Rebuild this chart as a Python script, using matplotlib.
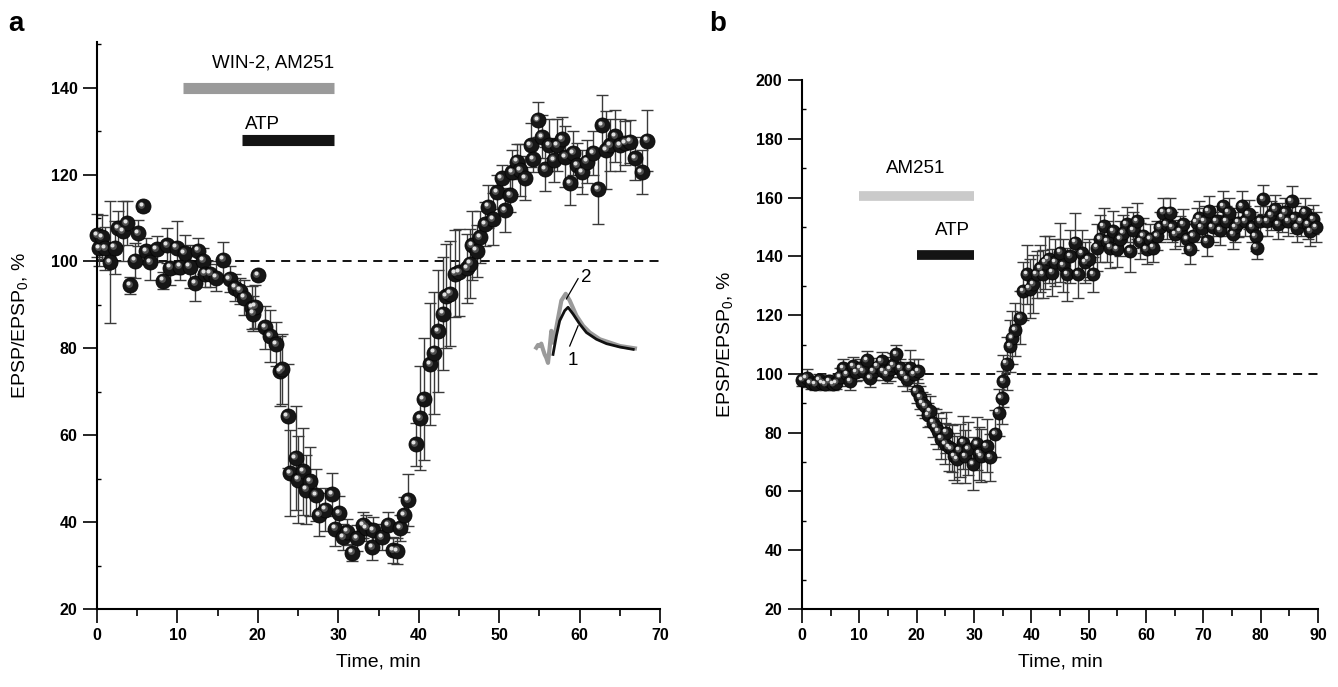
import matplotlib
matplotlib.use("Agg")
import matplotlib.pyplot as plt
import matplotlib.transforms as mtransforms
from matplotlib.ticker import MultipleLocator

plt.rcParams['font.family'] = ['Liberation Sans', 'DejaVu Sans']
plt.rcParams['mathtext.fontset'] = 'custom'
plt.rcParams['mathtext.rm'] = 'Liberation Sans'
plt.rcParams['mathtext.it'] = 'Liberation Sans'

# panel a: WIN-2 + AM251, then ATP
time_a = [0.0, 0.3, 0.6, 1.0, 1.6, 2.2, 2.6, 3.2, 3.7, 4.1, 4.7, 5.1, 5.7, 6.1, 6.6,
          7.4, 8.2, 8.7, 9.1, 9.9, 10.3, 10.9, 11.5, 12.2, 12.6, 13.2, 13.4, 14.1, 14.8,
          15.7, 16.5, 17.2, 17.8, 18.3, 19.3, 19.4, 19.7, 20.0, 20.9, 21.5, 22.3, 22.8,
          23.0, 23.7, 24.0, 24.7, 25.0, 25.6, 26.0, 26.5, 27.2, 27.6, 28.4, 29.2, 29.6,
          30.1, 30.6, 31.1, 31.7, 32.3, 33.1, 33.5, 34.2, 34.3, 35.4, 36.2, 36.8, 37.3,
          37.7, 38.2, 38.7, 39.6, 40.2, 40.6, 41.4, 41.9, 42.4, 43.0, 43.4, 43.9, 44.5,
          45.0, 46.0, 46.4, 46.6, 47.2, 47.6, 48.3, 48.6, 49.2, 49.7, 50.3, 50.7, 51.4,
          51.6, 52.2, 52.6, 53.2, 53.9, 54.2, 54.8, 55.3, 55.7, 56.2, 56.8, 57.2, 57.8,
          58.2, 58.8, 59.2, 59.7, 60.3, 60.9, 61.7, 62.3, 62.8, 63.3, 63.8, 64.4, 65.0,
          65.7, 66.3, 66.9, 67.7, 68.4]
epsp_a = [106, 103, 105.6, 103, 99.8, 103.2, 107.6, 107, 108.8, 94.5, 100.2, 106.5, 112.7,
          102.3, 99.8, 102.8, 95.6, 103.7, 98.6, 103.2, 98.8, 102, 98.8, 95, 102.5, 100.2,
          97.2, 97.2, 96.3, 100.4, 96, 94, 93.3, 91.7, 89.4, 88, 89.6, 96.8, 84.8, 82.9,
          81, 74.8, 75.2, 64.4, 51.3, 54.8, 49.8, 51.7, 47.5, 49.4, 46.3, 41.7, 42.9, 46.4,
          38.5, 42, 36.6, 37.8, 33, 36.3, 39.4, 38.7, 34.3, 38.2, 36.6, 39.4, 33.6, 33.4,
          38.7, 41.7, 45, 57.9, 63.9, 68.3, 76.4, 79, 84, 88, 92, 92.6, 97.2, 97.5, 98.4,
          99.5, 103.7, 102.5, 105.6, 108.6, 112.6, 109.7, 116, 119.1, 111.8, 115.3, 120.6,
          123, 121, 119.2, 126.8, 123.6, 132.6, 128.7, 121.3, 126.8, 123.4, 126.8, 128.2,
          124.1, 118, 125, 122.2, 120.6, 123, 125, 116.6, 131.4, 125.7, 126.8, 128.9,
          126.8, 127.3, 127.6, 123.7, 120.6, 127.8]
sem_a = [5, 4, 5, 5, 14, 6, 4, 7, 5, 2, 4, 3, 1, 3, 4, 3, 2, 4, 4, 6, 3, 4, 5, 4, 3, 3,
         3, 3, 3, 4, 3, 3, 3, 4, 5, 4, 5, 1, 5, 6, 5, 8, 8, 12, 10, 12, 10, 10, 8, 8, 6,
         5, 5, 5, 4, 4, 3, 3, 2, 3, 3, 3, 3, 3, 3, 3, 3, 3, 3, 4, 6, 5, 12, 14, 14, 14,
         14, 13, 12, 12, 10, 10, 8, 8, 8, 6, 6, 5, 5, 6, 4, 3, 5, 4, 5, 4, 6, 5, 5, 3, 4,
         5, 5, 6, 5, 6, 5, 7, 5, 5, 5, 5, 5, 5, 8, 7, 9, 6, 6, 6, 5, 5, 5, 5, 7]

# panel b: AM251, then ATP
time_b = [0.0, 0.8, 1.5, 2.3, 3.0, 3.5, 4.0, 4.7, 5.4, 6.0, 6.6, 7.2, 7.8, 8.4, 8.9, 9.5,
          10.1, 10.7, 11.3, 11.9, 12.5, 13.2, 13.9, 14.2, 14.8, 15.3, 15.9, 16.4, 17.1,
          17.7, 18.3, 18.8, 19.5, 20.0, 20.3, 20.6, 21.0, 21.5, 22.0, 22.3, 22.9, 23.3,
          23.7, 24.3, 25.0, 25.2, 25.6, 26.1, 26.5, 27.0, 27.5, 28.1, 28.5, 29.0, 29.8,
          30.5, 30.9, 31.3, 32.2, 32.8, 33.7, 34.3, 34.8, 35.1, 35.7, 36.3, 36.6, 37.2,
          38.0, 38.6, 39.2, 39.7, 40.3, 40.9, 41.5, 42.0, 42.4, 43.0, 43.6, 44.2, 45.0,
          45.6, 46.2, 46.8, 47.6, 48.2, 48.8, 49.4, 50.0, 50.8, 51.4, 52.0, 52.6, 53.2,
          53.8, 54.3, 54.9, 55.5, 56.0, 56.6, 57.2, 57.8, 58.4, 59.0, 59.5, 60.1, 60.7,
          61.3, 61.9, 62.4, 63.0, 63.6, 64.2, 64.6, 65.1, 65.9, 66.5, 67.1, 67.7, 68.2,
          68.8, 69.3, 69.7, 70.2, 70.6, 70.9, 71.6, 72.3, 72.9, 73.5, 74.0, 74.4, 75.2,
          75.6, 76.1, 76.7, 77.3, 77.9, 78.5, 79.1, 79.3, 79.9, 80.4, 81.1, 81.8, 82.5,
          83.1, 83.7, 84.3, 84.8, 85.4, 85.9, 86.3, 87.0, 87.7, 88.2, 88.6, 89.2, 89.6]
epsp_b = [98, 98.7, 97, 96.6, 98, 97, 96.6, 97.5, 96.6, 97, 99, 102, 100, 97.6, 102.7,
          100.5, 102, 101, 104.7, 98.7, 101, 102.5, 104.4, 101, 100, 101.7, 103, 106.8,
          102, 100, 98.3, 102, 100, 94.2, 101, 92, 90, 89.1, 86, 87.4, 83.4, 82, 80.6, 78,
          76.2, 80, 75, 74.5, 72, 71, 74, 76.6, 72, 74.5, 69.4, 76.2, 73, 72.1, 75.5, 71.6,
          79.6, 86.8, 91.9, 97.6, 103.5, 109.5, 112.3, 115, 119.1, 128.2, 133.9, 129,
          130.6, 133.9, 136, 134, 137.9, 139, 134.5, 138, 141.3, 137, 133.9, 140, 144.7,
          133.9, 141, 138, 139, 133.9, 143, 146, 150.3, 145.2, 143, 148.6, 142.4, 146, 148,
          150.9, 141.8, 149, 152, 145.2, 147, 142.4, 146, 143, 147, 150, 154.9, 151, 154.9,
          150, 147.5, 148.6, 151, 146, 142.4, 147, 151.5, 153, 149.8, 152, 145.2, 155.4,
          150, 152, 149, 157.1, 152, 154.9, 147.5, 150, 151.5, 157.1, 152, 154.3, 150,
          146.9, 143, 152, 159.4, 152, 154, 156, 151, 153.2, 155, 152, 158.8, 153, 149.8,
          152, 154.9, 151, 148.6, 152.6, 150]
sem_b = [2, 3, 2, 2, 2, 2, 2, 2, 2, 2, 3, 3, 3, 3, 3, 3, 3, 3, 3, 3, 3, 3, 3, 3, 3, 4, 4,
         3, 3, 4, 4, 6, 5, 4, 4, 4, 4, 4, 4, 5, 5, 6, 6, 7, 7, 7, 8, 8, 8, 8, 9, 9, 9, 9,
         9, 9, 9, 9, 9, 8, 8, 8, 9, 9, 9, 9, 9, 9, 9, 10, 10, 10, 10, 8, 8, 8, 9, 8, 8, 8,
         10, 9, 9, 9, 10, 8, 8, 7, 7, 6, 8, 8, 6, 7, 7, 7, 6, 6, 6, 6, 7, 6, 6, 6, 6, 5, 5,
         5, 5, 5, 5, 5, 5, 5, 5, 5, 5, 5, 5, 5, 5, 6, 5, 5, 5, 5, 5, 5, 5, 5, 5, 5, 5, 5,
         5, 5, 5, 5, 5, 5, 4, 5, 5, 5, 5, 5, 5, 5, 5, 5, 5, 5, 5, 5, 5, 5, 5, 5, 5]

# inset EPSP traces (1 = before, 2 = after)
trace_t = [50, 55, 60, 65, 70, 75, 80, 85, 90, 95, 100, 110, 125, 138, 150, 170, 190,
           210, 240, 270, 300, 345]
trace2 = [40, 48, 45, 52, 35, 20, 10, -5, 40, 90, 55, 100, 180, 200, 180, 135, 105, 85,
          65, 55, 45, 38]
trace1_t = [100, 110, 120, 135, 145, 160, 180, 200, 230, 260, 300, 340]
trace1 = [20, 75, 120, 150, 160, 140, 110, 85, 65, 52, 42, 35]


def sphere_plot(ax, x, y, err, size):
    ax.errorbar(x, y, yerr=err, fmt='none', ecolor='#3a3a3a', elinewidth=1.0,
                capsize=4, capthick=1.0, zorder=2, clip_on=False)
    ax.plot(x, y, 'o', ms=size, mfc='#161616', mec='#050505', mew=0.6,
            zorder=3, clip_on=False)
    t1 = mtransforms.offset_copy(ax.transData, fig=ax.figure, x=-1.0, y=1.0, units='points')
    ax.plot(x, y, 'o', ms=size * 0.45, mfc='#505050', mec='none', transform=t1,
            zorder=4, clip_on=False)
    t2 = mtransforms.offset_copy(ax.transData, fig=ax.figure, x=-1.6, y=1.6, units='points')
    ax.plot(x, y, 'o', ms=size * 0.27, mfc='#e2e2e2', mec='none', transform=t2,
            zorder=5, clip_on=False)


def style_axes(ax, xmax, ymax, ytop):
    for side in ['top', 'right']:
        ax.spines[side].set_visible(False)
    for side in ['left', 'bottom']:
        ax.spines[side].set_linewidth(1.5)
    ax.set_xlim(0, xmax)
    ax.set_ylim(20, ytop)
    ax.spines['left'].set_bounds(20, ytop)
    ax.xaxis.set_major_locator(MultipleLocator(10))
    ax.xaxis.set_minor_locator(MultipleLocator(5))
    ax.yaxis.set_major_locator(MultipleLocator(20))
    ax.yaxis.set_minor_locator(MultipleLocator(10))
    ax.set_yticks(range(20, ymax + 1, 20))
    ax.tick_params(axis='both', which='major', direction='out', length=10, width=1.2,
                   labelsize=11.5, pad=4)
    ax.tick_params(axis='x', which='minor', direction='out', length=5, width=1.2)
    ax.tick_params(axis='y', which='minor', direction='in', length=3, width=1.0)
    for lab in ax.get_xticklabels() + ax.get_yticklabels():
        lab.set_fontweight('bold')
    ax.set_xlabel('Time, min', fontsize=14, labelpad=7)
    ax.set_ylabel('EPSP/EPSP$_0$, %', fontsize=14, labelpad=15)
    ax.axhline(100, color='black', lw=1.3, ls=(0, (5, 3.5)), zorder=1)


fig = plt.figure(figsize=(13.38, 6.87), dpi=100)
ax_a = fig.add_axes([0.0725, 0.1135, 0.4208, 0.8253])
ax_b = fig.add_axes([0.5994, 0.1135, 0.3857, 0.7700])

# panel a
style_axes(ax_a, 70, 140, 150.5)
sphere_plot(ax_a, time_a, epsp_a, sem_a, 10.8)
ax_a.plot([10.7, 29.5], [140, 140], color='#9a9a9a', lw=8, solid_capstyle='butt')
ax_a.plot([18.0, 29.5], [128, 128], color='#141414', lw=8, solid_capstyle='butt')
ax_a.text(21.9, 145.6, 'WIN-2, AM251', ha='center', va='center', fontsize=13.5)
ax_a.text(20.6, 131.6, 'ATP', ha='center', va='center', fontsize=13.5)

ins = ax_a.inset_axes([54.2, 75.5, 13.3, 21.7], transform=ax_a.transData)
ins.set_xlim(40, 360)
ins.set_ylim(-20, 260)
ins.axis('off')
ins.plot(trace_t, trace2, color='#9a9a9a', lw=3.0, solid_joinstyle='round')
ins.plot(trace1_t, trace1, color='#111111', lw=2.0, solid_joinstyle='round')
ins.plot([175, 140], [245, 185], color='black', lw=0.9)
ins.text(200, 248, '2', ha='center', va='center', fontsize=13.5)
ins.plot([150, 175], [45, 105], color='black', lw=0.9)
ins.text(160, 2, '1', ha='center', va='center', fontsize=13.5)

# panel b
style_axes(ax_b, 90, 200, 200)
sphere_plot(ax_b, time_b, epsp_b, sem_b, 9.4)
ax_b.plot([10, 30], [160.5, 160.5], color='#cacaca', lw=7, solid_capstyle='butt')
ax_b.plot([20, 30], [140.5, 140.5], color='#141414', lw=7, solid_capstyle='butt')
ax_b.text(19.8, 169.8, 'AM251', ha='center', va='center', fontsize=13.5)
ax_b.text(26.2, 148.8, 'ATP', ha='center', va='center', fontsize=13.5)

fig.text(0.006, 0.965, 'a', fontsize=20, fontweight='bold', va='center')
fig.text(0.530, 0.965, 'b', fontsize=20, fontweight='bold', va='center')

fig.savefig('out.png', dpi=100)
